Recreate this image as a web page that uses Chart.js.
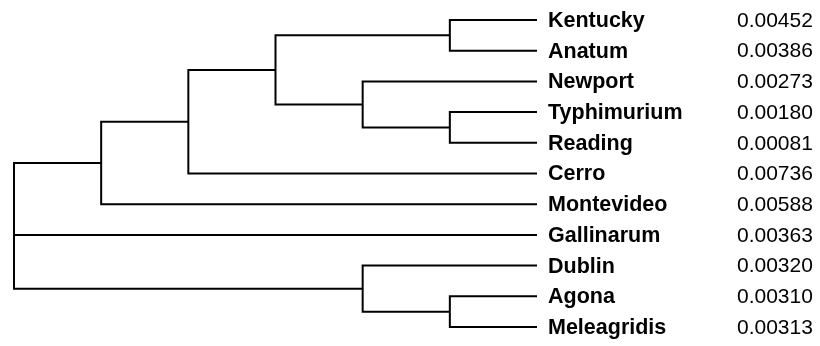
<!DOCTYPE html>
<html>
<head>
<meta charset="utf-8">
<script src="https://cdn.jsdelivr.net/npm/chart.js@4"></script>
<style>
    html, body { margin: 0; padding: 0; background: #fff; }
    #wrap { width: 820px; height: 346px; position: relative; }
</style>
</head>
<body>
<div id="wrap"><canvas id="treeChart"></canvas></div>
<script>
// leaves, top to bottom
const leafNames = ['Kentucky', 'Anatum', 'Newport', 'Typhimurium', 'Reading', 'Cerro', 'Montevideo', 'Gallinarum', 'Dublin', 'Agona', 'Meleagridis'];
const leafValues = [0.00452, 0.00386, 0.00273, 0.00180, 0.00081, 0.00736, 0.00588, 0.00363, 0.00320, 0.00310, 0.00313];
const leafDepth = 6;

// internal nodes (depth counted from the root)
const clusterNames = ['KA', 'TR', 'NTR', 'KANTR', 'C1', 'C2', 'AM', 'DAM', 'root'];
const clusterDepths = [5, 5, 4, 3, 2, 1, 5, 4, 0];
const clusterChildren = [
    ['Kentucky', 'Anatum'],
    ['Typhimurium', 'Reading'],
    ['Newport', 'TR'],
    ['KA', 'NTR'],
    ['KANTR', 'Cerro'],
    ['C1', 'Montevideo'],
    ['Agona', 'Meleagridis'],
    ['Dublin', 'AM'],
    ['C2', 'Gallinarum', 'DAM']
];

const pos = {};
leafNames.forEach((n, i) => { pos[n] = { x: leafDepth, y: i }; });
clusterNames.forEach((n, i) => {
    const kids = clusterChildren[i].map(k => pos[k]);
    pos[n] = { x: clusterDepths[i], y: (kids[0].y + kids[kids.length - 1].y) / 2 };
});

const lineStyle = {
    borderColor: '#000',
    borderWidth: 2,
    pointRadius: 0,
    showLine: true,
    fill: false,
    tension: 0,
    borderJoinStyle: 'miter',
    clip: false
};

const datasets = [];
clusterNames.forEach((n, i) => {
    const d = clusterDepths[i];
    const kids = clusterChildren[i].map(k => pos[k]);
    const first = kids[0], last = kids[kids.length - 1];
    datasets.push(Object.assign({
        data: [{ x: first.x, y: first.y }, { x: d, y: first.y }, { x: d, y: last.y }, { x: last.x, y: last.y }]
    }, lineStyle));
    kids.slice(1, -1).forEach(k => {
        datasets.push(Object.assign({ data: [{ x: d, y: k.y }, { x: k.x, y: k.y }] }, lineStyle));
    });
});

const leafLabels = {
    id: 'leafLabels',
    afterDatasetsDraw(chart) {
        const { ctx, scales } = chart;
        const xName = scales.x.getPixelForValue(leafDepth) + 11;
        ctx.save();
        ctx.fillStyle = '#000';
        ctx.textBaseline = 'middle';
        leafNames.forEach((n, i) => {
            const y = scales.y.getPixelForValue(i) + 1;
            ctx.font = 'bold 21.5px "Liberation Sans", Arial, sans-serif';
            ctx.fillText(n, xName, y);
            ctx.font = '21px "Liberation Sans", Arial, sans-serif';
            ctx.fillText(leafValues[i].toFixed(5), 737, y);
        });
        ctx.restore();
    }
};

new Chart(document.getElementById('treeChart').getContext('2d'), {
    type: 'scatter',
    data: { datasets },
    options: {
        responsive: true,
        maintainAspectRatio: false,
        animation: false,
        layout: { padding: { left: 14, right: 283, top: 20, bottom: 19 } },
        plugins: { legend: { display: false }, tooltip: { enabled: false } },
        scales: {
            x: { type: 'linear', min: 0, max: leafDepth, display: false },
            y: { type: 'linear', min: 0, max: leafNames.length - 1, reverse: true, display: false }
        }
    },
    plugins: [leafLabels]
});
</script>
</body>
</html>
